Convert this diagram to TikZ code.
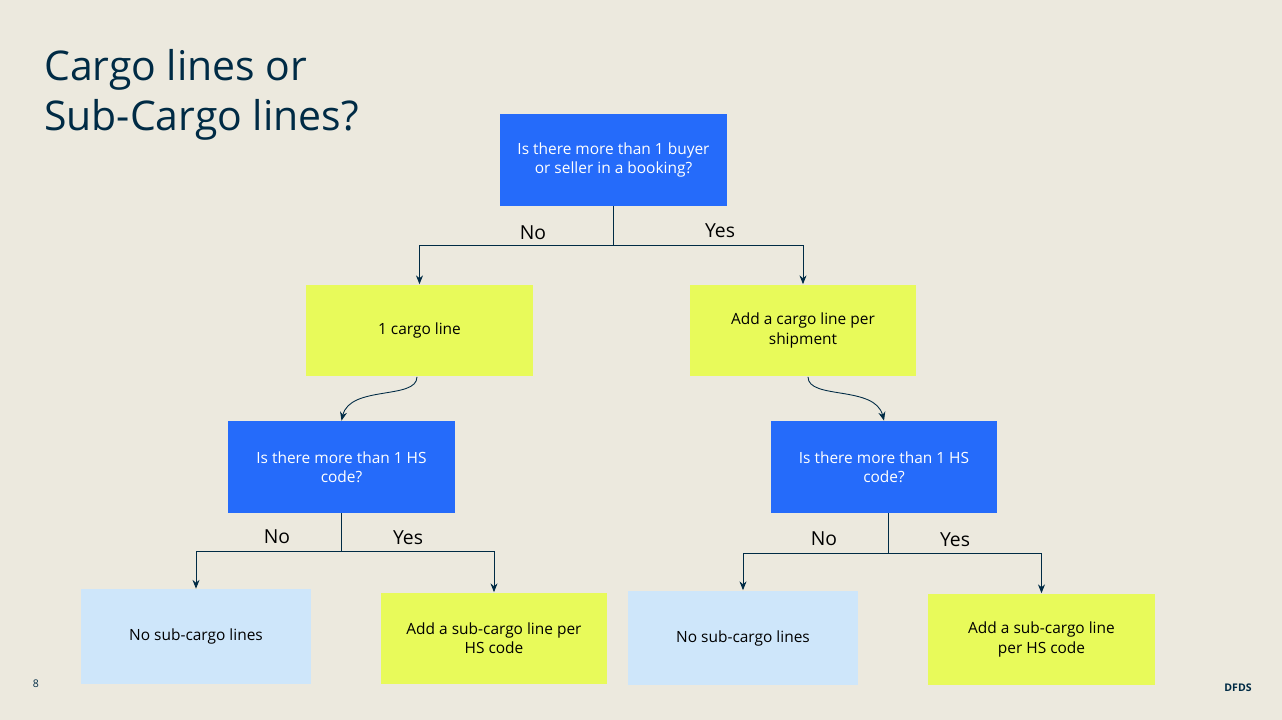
\documentclass[tikz,border=0pt]{standalone}
\usepackage{fontspec}
\setmainfont{Open Sans}
\usetikzlibrary{positioning, arrows.meta}
\definecolor{pagebg}{RGB}{236,233,222}
\definecolor{navy}{RGB}{0,43,69}
\definecolor{qblue}{RGB}{37,107,250}
\definecolor{ayellow}{RGB}{232,250,90}
\definecolor{nlight}{RGB}{206,230,250}
\tikzset{
  qbox/.style={fill=qblue, text=white, minimum width=4.54cm, minimum height=1.84cm, align=center, font=\fontsize{8.8}{11}\selectfont},
  abox/.style={qbox, fill=ayellow, text=black},
  nbox/.style={qbox, fill=nlight, text=black, minimum width=4.6cm, minimum height=1.9cm},
  conn/.style={draw=navy, line width=0.5pt, -{Stealth[length=5pt,width=4pt]}},
  lbl/.style={font=\fontsize{11}{13}\selectfont}
}
\begin{document}
\begin{tikzpicture}[x=0.02cm, y=-0.02cm]
        % page
        \fill[pagebg] (0,0) rectangle (1282,720);
        \useasboundingbox (0,0) rectangle (1282,720);
        \node[anchor=north west, text=navy, align=left, font=\fontsize{23.3}{28.5}\selectfont] (title) at (38,43) {Cargo lines or\\Sub-Cargo lines?};

        % first question
        \node[qbox] (q1) at (613.5,160) {Is there more than 1 buyer\\or seller in a booking?};
        \node[abox] (one) at (419.5,330.5) {1 cargo line};
        \node[abox] (per) at (803,330.5) {Add a cargo line per\\shipment};

        % second questions
        \node[qbox] (q2) at (341.5,467) {Is there more than 1 HS\\code?};
        \node[qbox] (q3) at (884,467) {Is there more than 1 HS\\code?};

        % results
        \node[nbox] (n1) at (196,636.5) {No sub-cargo lines};
        \node[abox] (y1) at (494,638.5) {Add a sub-cargo line per\\HS code};
        \node[nbox] (n2) at (743,638) {No sub-cargo lines};
        \node[abox] (y2) at (1041.5,639.5) {Add a sub-cargo line\\per HS code};

        % connectors
        \coordinate (s1) at (613.5,245);
        \coordinate (s2) at (341.5,551);
        \coordinate (s3) at (888,553);
        \draw[conn] (q1.south) -- (s1) -| (one.north);
        \draw[conn] (s1) -| (per.north);
        \draw[conn] (q2.south) -- (s2) -| (n1.north);
        \draw[conn] (s2) -| (y1.north);
        \draw[conn] (q3.south -| s3) -- (s3) -| (n2.north);
        \draw[conn] (s3) -| (y2.north);
        \draw[conn] (one.south -| 417,0) .. controls (417,400) and (350,385) .. (q2.north);
        \draw[conn] (per.south -| 808,0) .. controls (808,400) and (875,385) .. (q3.north -| 884,0);

        % labels
        \node[lbl] (l1) at (533,233) {No};
        \node[lbl] (l2) at (720,231) {Yes};
        \node[lbl] (l3) at (277,537) {No};
        \node[lbl] (l4) at (408,538) {Yes};
        \node[lbl] (l5) at (824,539) {No};
        \node[lbl] (l6) at (955,540) {Yes};

        % footer
        \node[text=navy, font=\fontsize{6}{7}\selectfont] (pg) at (36,684) {8};
        \node[text=navy, font=\bfseries\fontsize{6}{7}\selectfont] (logo) at (1238,688) {DFDS};
    \end{tikzpicture}
\end{document}
